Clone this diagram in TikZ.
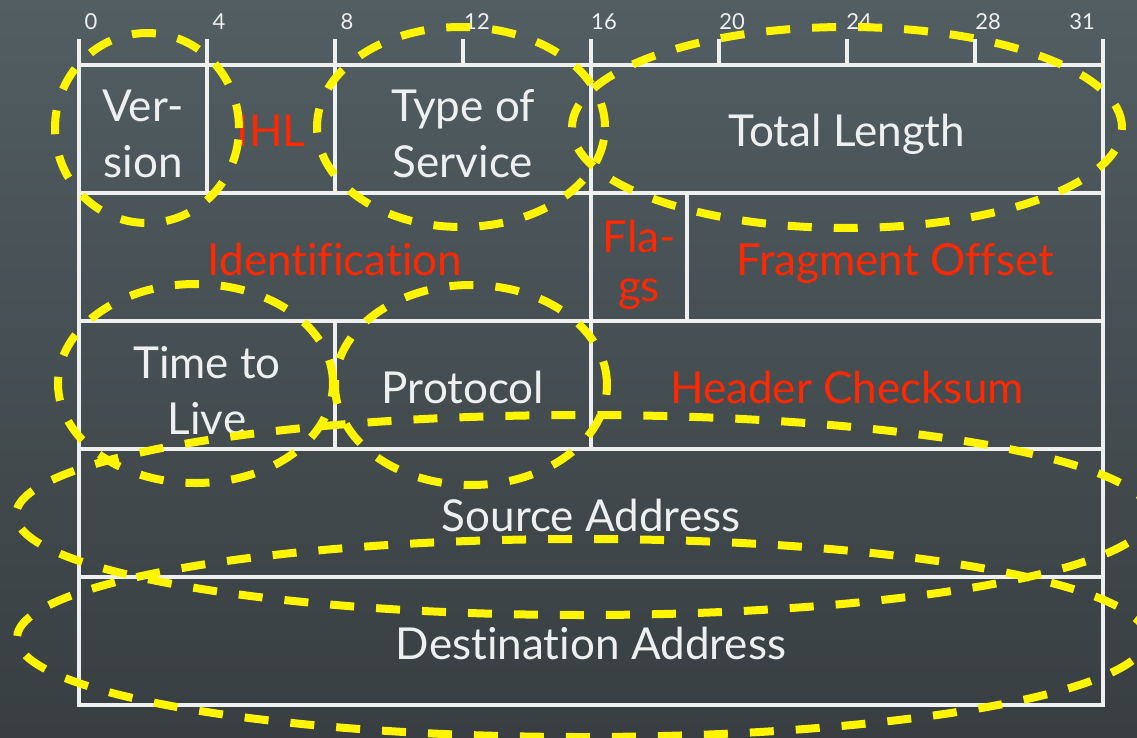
\documentclass[tikz,border=0pt]{standalone}
\usepackage{fontspec}
\setmainfont{Lato}[Ligatures={NoCommon}]
\usetikzlibrary{shapes.geometric}
\definecolor{boardtop}{RGB}{82,94,98}
\definecolor{boardbot}{RGB}{56,62,65}
\definecolor{chalk}{RGB}{238,240,240}
\definecolor{chalkred}{RGB}{255,40,0}
\definecolor{marker}{RGB}{255,245,0}
\begin{document}
\begin{tikzpicture}[x=1pt,y=-1pt,
  field/.style={draw=chalk, line width=4.5pt, minimum height=128pt,
    inner sep=0pt, outer sep=0pt, align=center, text=chalk,
    font=\fontsize{44}{56}\selectfont},
  redfield/.style={field, text=chalkred},
  oneline/.style={text height=36pt, text depth=0pt},
  twoline/.style={text height=98pt, text depth=0pt},
  tickmark/.style={draw=chalk, line width=4.5pt},
  bitlabel/.style={text=chalk, font=\fontsize{22}{26}\selectfont, inner sep=0pt},
  hl/.style={ellipse, draw=marker, line width=8pt,
    dash pattern=on 24pt off 22pt, inner sep=0pt}]

% chalkboard
\useasboundingbox (0,0) rectangle (1137,738);
\shade[top color=boardtop, bottom color=boardbot] (0,0) rectangle (1137,738);

% bit ruler
\foreach \k in {0,...,8}
  \draw[tickmark] (79+128*\k,65) -- (79+128*\k,39);
\node[bitlabel] (b0)  at (91,22)   {0};
\node[bitlabel] (b4)  at (219,22)  {4};
\node[bitlabel] (b8)  at (347,22)  {8};
\node[bitlabel] (b12) at (477,22)  {12};
\node[bitlabel] (b16) at (604,22)  {16};
\node[bitlabel] (b20) at (732,22)  {20};
\node[bitlabel] (b24) at (859,22)  {24};
\node[bitlabel] (b28) at (988,22)  {28};
\node[bitlabel] (b31) at (1082,22) {31};

% header fields
\node[field,    twoline, minimum width=128pt] (ver)   at (143,129) {Ver-\\sion};
\node[redfield, oneline, minimum width=128pt] (ihl)   at (271,129) {IHL};
\node[field,    twoline, minimum width=256pt] (tos)   at (463,129) {Type of\\Service};
\node[field,    oneline, minimum width=512pt] (tlen)  at (847,129) {Total Length};

\node[redfield, oneline, minimum width=512pt] (ident) at (335,257) {Identification};
\node[redfield, text height=88pt, text depth=0pt, minimum width=96pt,
      font=\fontsize{44}{49}\selectfont]      (flags) at (639,257) {Fla-\\gs};
\node[redfield, oneline, minimum width=416pt] (frag)  at (895,257) {Fragment Offset};

\node[field,    twoline, minimum width=256pt] (ttl)   at (207,385) {Time to\\Live};
\node[field,    oneline, minimum width=256pt] (proto) at (463,385) {Protocol};
\node[redfield, oneline, minimum width=512pt] (csum)  at (847,385) {Header Checksum};

\node[field,    oneline, minimum width=1024pt] (src)  at (591,513) {Source Address};
\node[field,    oneline, minimum width=1024pt] (dst)  at (591,641) {Destination Address};

% marker rings
\node[hl, minimum width=184pt,  minimum height=190pt] (ringver)   at (147,128)   {};
\node[hl, minimum width=288pt,  minimum height=200pt] (ringtos)   at (461,127)   {};
\node[hl, minimum width=550pt,  minimum height=201pt] (ringtlen)  at (847,127.5) {};
\node[hl, minimum width=275pt,  minimum height=199pt] (ringttl)   at (195.5,383.5) {};
\node[hl, minimum width=272pt,  minimum height=200pt] (ringproto) at (471,385)   {};
\node[hl, minimum width=1134pt, minimum height=200pt] (ringsrc)   at (583,515)   {};
\node[hl, minimum width=1130pt, minimum height=198pt] (ringdst)   at (582,638)   {};
\end{tikzpicture}
\end{document}
